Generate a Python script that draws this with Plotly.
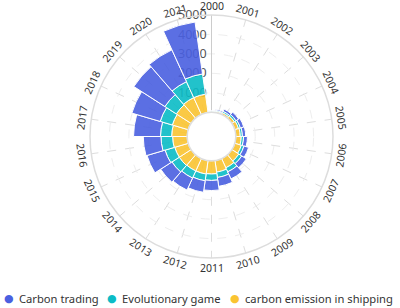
import math
import plotly.graph_objects as go

# ---- data ----
years = [str(y) for y in range(2000, 2022)]
shipping = [30, 60, 100, 150, 200, 230, 280, 350, 420, 520, 600, 680, 700, 700, 720, 720, 750, 800, 850, 900, 950, 950]
evolutionary = [40, 50, 80, 100, 100, 110, 120, 140, 180, 230, 280, 330, 350, 400, 450, 520, 600, 575, 650, 700, 900, 1050]
trading = [20, 60, 120, 160, 180, 170, 200, 250, 280, 400, 460, 520, 600, 680, 690, 970, 910, 1385, 1520, 1900, 1800, 2700]
series_names = ["Carbon trading", "Evolutionary game", "carbon emission in shipping"]
radial_ticks = [1000, 2000, 3000, 4000, 5000]

# ---- styling ----
W, H = 400, 308
CX, CY, R = 211.5, 136.5, 121.5
C_TRADE, C_EVO, C_SHIP = "#4a60e0", "#0cbcc6", "#fac431"
FONT = "Noto Sans"

fig = go.Figure()
for name, vals, col in [(series_names[2], shipping, C_SHIP),
                        (series_names[1], evolutionary, C_EVO),
                        (series_names[0], trading, C_TRADE)]:
    fig.add_trace(go.Barpolar(r=vals, theta=years, name=name, opacity=0.9,
                              marker=dict(color=col, line=dict(color="white", width=1)),
                              showlegend=False))

annotations = []
n = len(years)
RL = R + 9.5
for i, y in enumerate(years):
    th = i * 360.0 / n
    px = CX + RL * math.sin(math.radians(th))
    py = CY - RL * math.cos(math.radians(th))
    if th <= 90:
        rot = th
    elif th < 270:
        rot = th - 180
    else:
        rot = th - 360
    annotations.append(dict(x=px / W, y=1 - py / H, xref="paper", yref="paper",
                            text=y, showarrow=False, textangle=rot,
                            xanchor="center", yanchor="middle",
                            font=dict(size=10.5, color="#333", family=FONT)))

# legend: dot + label per series
leg_colors = [C_TRADE, C_EVO, C_SHIP]
dot_x = [9, 112, 235]
LEG_Y = 298
for name, col, dx in zip(series_names, leg_colors, dot_x):
    annotations.append(dict(x=dx / W, y=1 - LEG_Y / H, xref="paper", yref="paper",
                            text="●", showarrow=False, xanchor="center", yanchor="middle",
                            font=dict(size=11, color=col, family="DejaVu Sans")))
    annotations.append(dict(x=(dx + 8) / W, y=1 - LEG_Y / H, xref="paper", yref="paper",
                            text=name, showarrow=False, xanchor="left", yanchor="middle",
                            font=dict(size=11.2, color="#333", family=FONT)))

fig.update_layout(
    width=W, height=H, margin=dict(l=0, r=0, t=0, b=0),
    paper_bgcolor="white", plot_bgcolor="white",
    font=dict(family=FONT, color="#333"),
    showlegend=False,
    annotations=annotations,
    polar=dict(
        domain=dict(x=[(CX - R) / W, (CX + R) / W], y=[1 - (CY + R) / H, 1 - (CY - R) / H]),
        hole=0.2, bargap=0, barmode="stack", bgcolor="white",
        angularaxis=dict(type="category", categoryarray=years, direction="clockwise", rotation=90,
                         showticklabels=False, ticks="", showline=True, linecolor="#dddddd", linewidth=1.5,
                         showgrid=True, gridcolor="#dddddd", griddash="dash"),
        radialaxis=dict(range=[0, 5000], angle=90, tickangle=90, side="counterclockwise",
                        tickvals=radial_ticks, showline=True, linecolor="#cccccc", ticks="",
                        showgrid=True, gridcolor="#eeeeee", griddash="dash", layer="below traces",
                        tickfont=dict(size=12.5, color="#555", family=FONT)),
    ),
)
fig.write_html("out.html", config={"displayModeBar": False},
               post_script="document.body.style.margin='0';document.body.style.overflow='hidden';")
